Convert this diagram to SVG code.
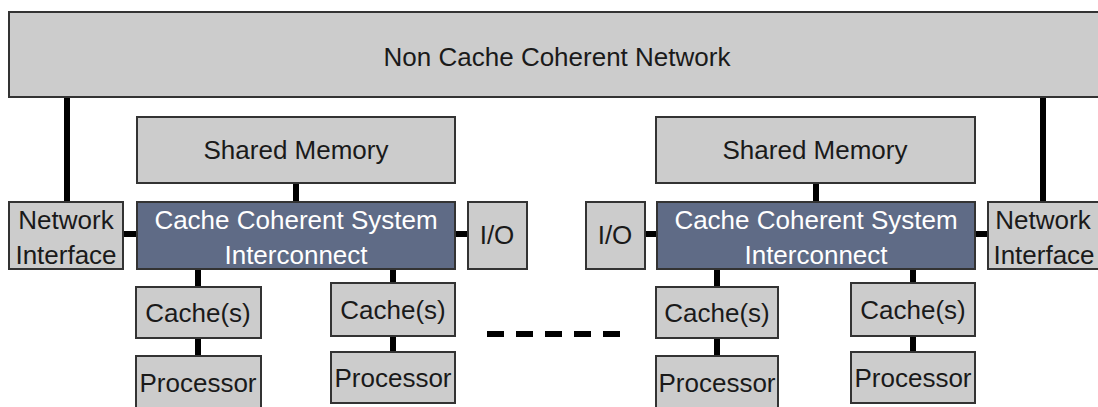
<svg xmlns="http://www.w3.org/2000/svg" width="1098" height="407" viewBox="0 0 1098 407">
<style>
.box{fill:#cccccc;stroke:#333333;stroke-width:2}
.dark{fill:#5f6b86;stroke:#333333;stroke-width:2}
.t{font-family:"Liberation Sans",Arial,sans-serif;font-size:26px;fill:#1a1a1a;text-anchor:middle}
.w{font-family:"Liberation Sans",Arial,sans-serif;font-size:26px;fill:#ffffff;text-anchor:middle}
.c{stroke:#000000;stroke-width:6;fill:none}
.d{stroke:#000000;stroke-width:6;fill:none;stroke-dasharray:17 12}
</style>
<rect width="1098" height="407" fill="#ffffff"/>
<g id="connectors">
<line class="c" x1="67" y1="97" x2="67" y2="202"/>
<line class="c" x1="1043" y1="97" x2="1043" y2="202"/>
<line class="c" x1="296" y1="183" x2="296" y2="202"/>
<line class="c" x1="816" y1="183" x2="816" y2="202"/>
<line class="c" x1="123" y1="234" x2="137" y2="234"/>
<line class="c" x1="455" y1="234" x2="468" y2="234"/>
<line class="c" x1="645" y1="234" x2="657" y2="234"/>
<line class="c" x1="975" y1="234" x2="988" y2="234"/>
<line class="c" x1="198" y1="269" x2="198" y2="287"/>
<line class="c" x1="198" y1="338" x2="198" y2="356"/>
<line class="c" x1="393" y1="269" x2="393" y2="283"/>
<line class="c" x1="393" y1="336" x2="393" y2="352"/>
<line class="c" x1="717" y1="269" x2="717" y2="287"/>
<line class="c" x1="717" y1="338" x2="717" y2="356"/>
<line class="c" x1="913" y1="269" x2="913" y2="283"/>
<line class="c" x1="913" y1="336" x2="913" y2="352"/>
<line class="d" x1="487" y1="334" x2="622" y2="334"/>
</g>
<g id="network">
<rect class="box" x="9" y="12" width="1100" height="85"/>
<text class="t" x="557" y="66">Non Cache Coherent Network</text>
</g>
<g id="shared-memory-1">
<rect class="box" x="137" y="117" width="318" height="66"/>
<text class="t" x="296" y="159">Shared Memory</text>
</g>
<g id="shared-memory-2">
<rect class="box" x="656" y="117" width="319" height="66"/>
<text class="t" x="815" y="159">Shared Memory</text>
</g>
<g id="network-interface-1">
<rect class="box" x="9" y="202" width="114" height="67"/>
<text class="t" x="66" y="229">Network</text>
<text class="t" x="66" y="264">Interface</text>
</g>
<g id="interconnect-1">
<rect class="dark" x="137" y="202" width="318" height="67"/>
<text class="w" x="296" y="229">Cache Coherent System</text>
<text class="w" x="296" y="264">Interconnect</text>
</g>
<g id="io-1">
<rect class="box" x="468" y="202" width="59" height="67"/>
<text class="t" x="497" y="244">I/O</text>
</g>
<g id="io-2">
<rect class="box" x="586" y="202" width="59" height="67"/>
<text class="t" x="615" y="244">I/O</text>
</g>
<g id="interconnect-2">
<rect class="dark" x="657" y="202" width="318" height="67"/>
<text class="w" x="816" y="229">Cache Coherent System</text>
<text class="w" x="816" y="264">Interconnect</text>
</g>
<g id="network-interface-2">
<rect class="box" x="988" y="202" width="120" height="67"/>
<text class="t" x="1043" y="229">Network</text>
<text class="t" x="1044" y="264">Interface</text>
</g>
<g id="cache-1">
<rect class="box" x="136" y="287" width="125" height="51"/>
<text class="t" x="198" y="322">Cache(s)</text>
</g>
<g id="processor-1">
<rect class="box" x="136" y="356" width="125" height="60"/>
<text class="t" x="198" y="392">Processor</text>
</g>
<g id="cache-2">
<rect class="box" x="331" y="283" width="124" height="53"/>
<text class="t" x="393" y="319">Cache(s)</text>
</g>
<g id="processor-2">
<rect class="box" x="331" y="352" width="124" height="51"/>
<text class="t" x="393" y="387">Processor</text>
</g>
<g id="cache-3">
<rect class="box" x="656" y="287" width="122" height="51"/>
<text class="t" x="717" y="322">Cache(s)</text>
</g>
<g id="processor-3">
<rect class="box" x="656" y="356" width="122" height="60"/>
<text class="t" x="717" y="392">Processor</text>
</g>
<g id="cache-4">
<rect class="box" x="851" y="283" width="124" height="53"/>
<text class="t" x="913" y="319">Cache(s)</text>
</g>
<g id="processor-4">
<rect class="box" x="851" y="352" width="124" height="51"/>
<text class="t" x="913" y="387">Processor</text>
</g>
</svg>
